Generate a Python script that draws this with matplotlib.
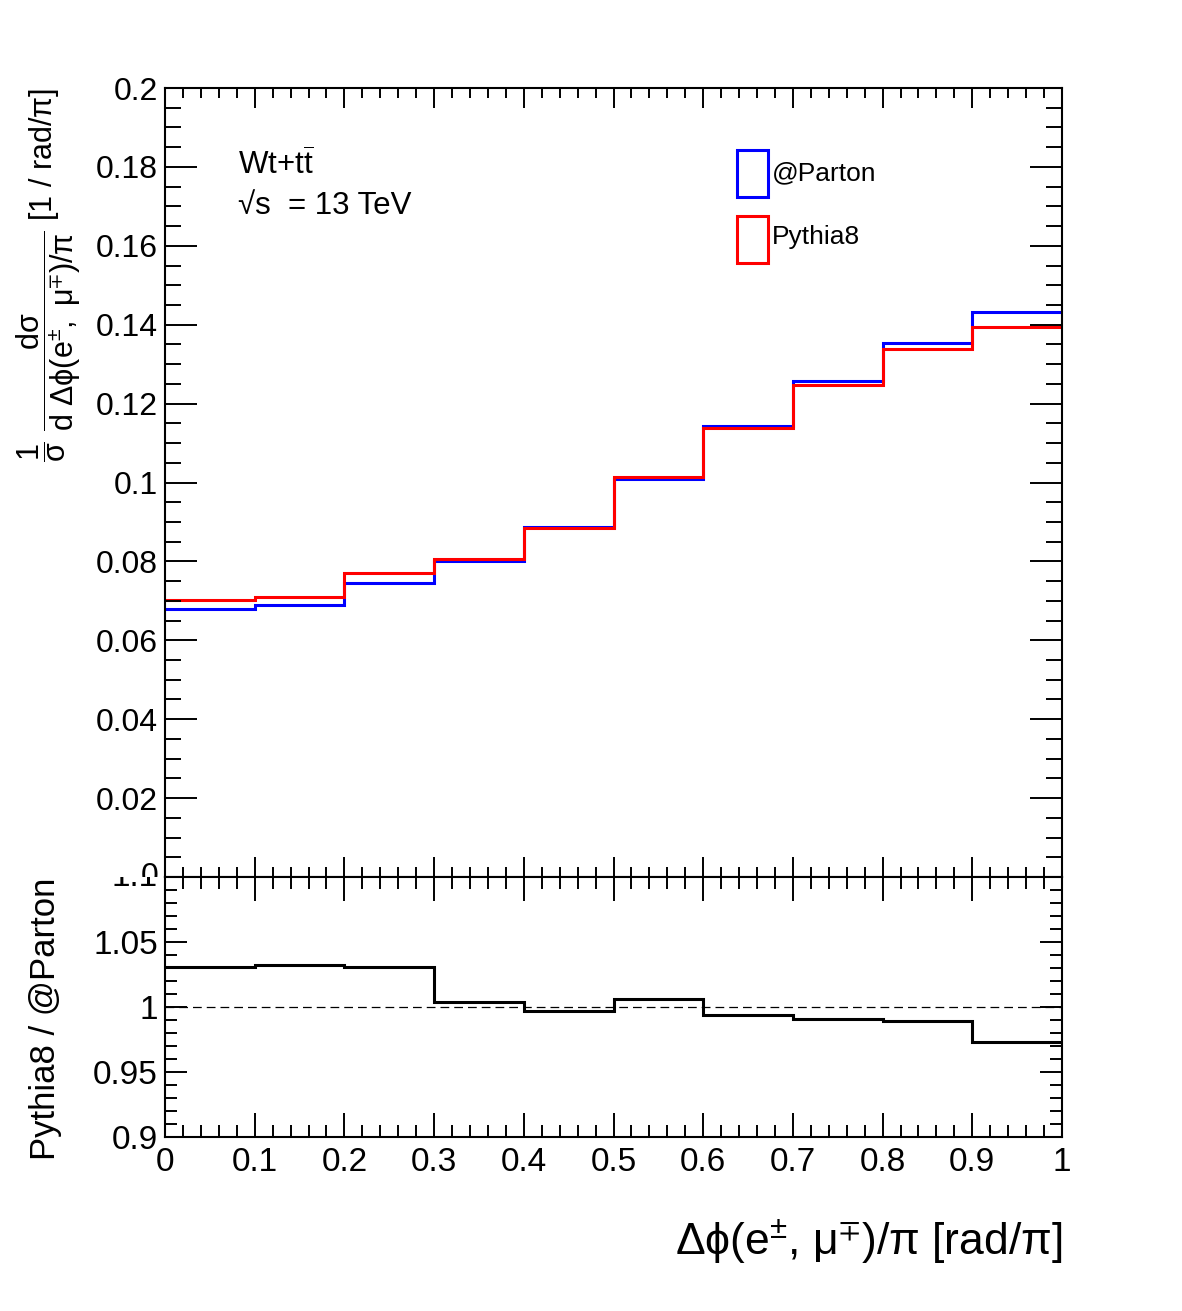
import matplotlib
matplotlib.use("Agg")
import matplotlib.pyplot as plt   # type: ignore
import numpy as np   # type: ignore
from matplotlib.patches import Rectangle
from matplotlib.transforms import Bbox, TransformedBbox
from matplotlib.ticker import MultipleLocator, FormatStrFormatter

plt.rcParams["font.family"] = ["Liberation Sans", "DejaVu Sans"]
plt.rcParams["mathtext.fontset"] = "custom"
plt.rcParams["mathtext.rm"] = "Liberation Sans"
plt.rcParams["mathtext.it"] = "Liberation Sans:italic"
plt.rcParams["mathtext.default"] = "regular"
plt.rcParams["mathtext.fallback"] = "stixsans"

# bin edges of dphi(e, mu)/pi
bin_edges = [0.0, 0.1, 0.2, 0.3, 0.4, 0.5, 0.6, 0.7, 0.8, 0.9, 1.0]

# normalised cross sections
parton = [0.0680, 0.0689, 0.0746, 0.0800, 0.0888,
          0.1009, 0.1144, 0.1257, 0.1353, 0.1432]
pythia8 = [0.0701, 0.0710, 0.0770, 0.0805, 0.0885,
           0.1013, 0.1137, 0.1246, 0.1338, 0.1393]

# Pythia8 / @Parton
ratio = [1.031, 1.032, 1.031, 1.004, 0.997,
         1.006, 0.994, 0.991, 0.989, 0.973]

W, H = 1182, 1311
fig = plt.figure(figsize=(W / 100, H / 100), dpi=100)

left = 165 / W
width = (1062 - 165) / W
split = 1 - 877 / H
ax = fig.add_axes([left, split, width, (877 - 88) / H])
rax = fig.add_axes([left, 1 - 1137 / H, width, (1137 - 877) / H])

ax.stairs(parton, bin_edges, baseline=None, color="#0000ff", lw=2.2)
ax.stairs(pythia8, bin_edges, baseline=None, color="#ff0000", lw=2.2)
ax.set_xlim(0, 1)
ax.set_ylim(0, 0.2)

rax.stairs(ratio, bin_edges, baseline=None, color="black", lw=2.2)
rax.axhline(1.0, color="black", lw=0.9, linestyle=(0, (7, 4)))
rax.set_xlim(0, 1)
rax.set_ylim(0.9, 1.1)

for a in (ax, rax):
    for s in a.spines.values():
        s.set_linewidth(1.5)
    a.xaxis.set_major_locator(MultipleLocator(0.1))
    a.xaxis.set_minor_locator(MultipleLocator(0.02))
    a.tick_params(which="both", direction="in", top=True, right=True,
                  width=1.4, labelsize=23)

# upper pad
ax.yaxis.set_major_locator(MultipleLocator(0.02))
ax.yaxis.set_minor_locator(MultipleLocator(0.005))
ax.yaxis.set_major_formatter(lambda v, p: "" if abs(v) < 1e-9 else "%g" % v)
ax.tick_params(axis="y", which="major", length=23, pad=5)
ax.tick_params(axis="y", which="minor", length=11.5)
ax.tick_params(axis="x", which="major", length=14.4, labelbottom=False)
ax.tick_params(axis="x", which="minor", length=7.2)

# lower pad
rax.yaxis.set_major_locator(MultipleLocator(0.05))
rax.yaxis.set_minor_locator(MultipleLocator(0.01))
rax.yaxis.set_major_formatter(
    lambda v, p: "" if abs(v - 1.1) < 1e-6 else "%g" % round(v, 3))
rax.xaxis.set_major_formatter(FormatStrFormatter("%g"))
rax.tick_params(axis="y", which="major", length=16, pad=5, labelsize=24)
rax.tick_params(axis="y", which="minor", length=8.6)
rax.tick_params(axis="x", which="major", length=17.5, pad=7, labelsize=24)
rax.tick_params(axis="x", which="minor", length=8.6)

# the overlapping "0" and "1.1" labels, cut by the pad borders like in ROOT
upper_clip = TransformedBbox(Bbox([[0, split], [1, 1]]), fig.transFigure)
lower_clip = TransformedBbox(Bbox([[0, 0], [1, split]]), fig.transFigure)
t0 = fig.text(158 / W, split, "0", ha="right", va="center", size=23)
t0.set_clip_box(upper_clip)
t0.set_clip_on(True)
t1 = fig.text(158 / W, split, "1.1", ha="right", va="center", size=24)
t1.set_clip_box(lower_clip)
t1.set_clip_on(True)

# labels
ax.text(0.0814, 0.8897, r"Wt+t$\overline{t}$", transform=ax.transAxes,
        size=22.5, ha="left", va="baseline")
ax.text(0.0814, 0.8403, "√s  = 13 TeV", transform=ax.transAxes,
        size=22.5, ha="left", va="baseline")

# legend
ax.add_patch(Rectangle((0.6377, 0.8618), 0.0346, 0.0596,
                       transform=ax.transAxes, fill=False,
                       edgecolor="#0000ff", lw=2.2))
ax.add_patch(Rectangle((0.6377, 0.7782), 0.0346, 0.0596,
                       transform=ax.transAxes, fill=False,
                       edgecolor="#ff0000", lw=2.2))
ax.text(0.6767, 0.8923, "@Parton", transform=ax.transAxes,
        size=19, ha="left", va="center")
ax.text(0.6767, 0.8112, "Pythia8", transform=ax.transAxes,
        size=19, ha="left", va="center")

# axis titles
fig.text(49 / W, 1 - 88 / H,
         r"$\dfrac{1}{\sigma}\ \dfrac{d\sigma}{d\ \Delta\phi(e^{\pm},\ \mu^{\mp})/\pi}$ [1 / rad/π]",
         rotation=90, ha="center", va="top", size=22)
fig.text(45 / W, 1 - 878 / H, "Pythia8 / @Parton",
         rotation=90, ha="center", va="top", size=25)
fig.text(1062 / W, 1 - 1255 / H,
         r"Δϕ(e$^{\pm}$, μ$^{\mp}$)/π [rad/π]",
         ha="right", va="baseline", size=32)

fig.savefig("out.png", dpi=100)
